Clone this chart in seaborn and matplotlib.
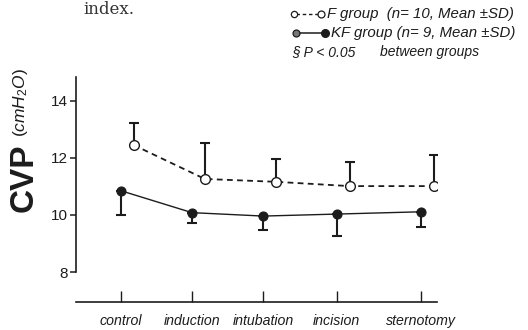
import numpy as np
import pandas as pd
import matplotlib
matplotlib.use("Agg")
import matplotlib.pyplot as plt
from matplotlib.lines import Line2D
import seaborn as sns

# Central venous pressure (cmH2O) at each surgical stage
stages = ["control", "induction", "intubation", "incision", "sternotomy"]
f_mean = [12.45, 11.26, 11.16, 11.01, 11.01]
f_sd = [0.78, 1.25, 0.81, 0.83, 1.09]
kf_mean = [10.85, 10.08, 9.96, 10.03, 10.11]
kf_sd = [0.84, 0.37, 0.49, 0.76, 0.52]
yticks = [8, 10, 12, 14]

# placement of the stages along the time axis, and the nudge of the F series
stage_pos = [0.0, 1.0, 2.0, 3.03, 4.21]
f_shift = 0.18

sns.set_theme(style="ticks")
plt.rcParams["font.family"] = ["Liberation Sans", "DejaVu Sans"]
plt.rcParams["mathtext.fontset"] = "custom"
plt.rcParams["mathtext.it"] = "Liberation Sans:italic"
plt.rcParams["mathtext.rm"] = "Liberation Sans"

ink = "#1c1c1c"
W, H = 528, 330

fig = plt.figure(figsize=(W / 100, H / 100), dpi=100)
fig.patch.set_facecolor("white")
ax = fig.add_axes([76 / W, (H - 301.7) / H, (437 - 76) / W, 301.7 / H])
ax.set_facecolor("white")

df_f = pd.DataFrame({"pos": np.array(stage_pos) + f_shift, "cvp": f_mean, "sd": f_sd})
df_kf = pd.DataFrame({"pos": np.array(stage_pos), "cvp": kf_mean, "sd": kf_sd})

# one-sided SD bars: upward for F, downward for KF
zeros = np.zeros(len(stages))
ax.errorbar(df_f["pos"], df_f["cvp"], yerr=[zeros, df_f["sd"]], fmt="none",
            ecolor=ink, elinewidth=1.5, capsize=3.8, capthick=1.5, zorder=2)
ax.errorbar(df_kf["pos"], df_kf["cvp"], yerr=[df_kf["sd"], zeros], fmt="none",
            ecolor=ink, elinewidth=1.5, capsize=3.8, capthick=1.5, zorder=2)

sns.lineplot(data=df_f, x="pos", y="cvp", ax=ax, color=ink, linewidth=1.3,
             linestyle=(0, (3.2, 2.4)), marker="o", markersize=7,
             markerfacecolor="white", markeredgecolor=ink, markeredgewidth=1.0,
             errorbar=None, sort=False, zorder=3)
sns.lineplot(data=df_kf, x="pos", y="cvp", ax=ax, color=ink, linewidth=1.0,
             marker="o", markersize=6.5, markerfacecolor=ink, markeredgecolor=ink,
             markeredgewidth=0.8, errorbar=None, sort=False, zorder=3)

ax.set_xlim(-0.627, 4.436)
ax.set_ylim(6.96, 17.53)
ax.set_xlabel("")
ax.set_ylabel("")

sns.despine(ax=ax, top=True, right=True)
for side in ("left", "bottom"):
    ax.spines[side].set_color(ink)
    ax.spines[side].set_linewidth(1.2)
ax.spines["left"].set_bounds(8, 14.83)

ax.set_yticks(yticks)
ax.set_yticklabels([str(v) for v in yticks], fontsize=11, color=ink)
ax.tick_params(axis="y", direction="out", length=4, width=1.1, color=ink, pad=2)

ax.set_xticks(stage_pos)
ax.set_xticklabels(stages, fontsize=10.2, style="italic", color=ink)
ax.tick_params(axis="x", direction="in", length=8, width=1.0, color=ink, pad=9)

# y-axis title: bold CVP with the unit beside it
fig.text(24 / W, 1 - 178 / H, "CVP", rotation=90, ha="center", va="center",
         fontsize=24, fontweight="bold", color=ink)
fig.text(21 / W, 1 - 103 / H, r"$(cmH_2O)$", rotation=90, ha="center", va="center",
         fontsize=12.5, color=ink)

# key in the upper right
def fx(px):
    return px / W

def fy(py):
    return 1 - py / H

fig.add_artist(Line2D([fx(296), fx(321)], [fy(14), fy(14)], transform=fig.transFigure,
                      color=ink, lw=1.0, linestyle=(0, (2.5, 2))))
fig.add_artist(Line2D([fx(294)], [fy(14)], transform=fig.transFigure, marker="o",
                      markersize=4.5, markerfacecolor="white", markeredgecolor=ink, mew=0.9))
fig.add_artist(Line2D([fx(321)], [fy(14)], transform=fig.transFigure, marker="o",
                      markersize=5, markerfacecolor="white", markeredgecolor=ink, mew=0.9))
fig.text(fx(327), fy(14), "F group  (n= 10, Mean ±SD)", fontsize=10.8, style="italic",
         ha="left", va="center", color=ink)

fig.add_artist(Line2D([fx(297), fx(325)], [fy(33), fy(33)], transform=fig.transFigure,
                      color=ink, lw=1.1))
fig.add_artist(Line2D([fx(296)], [fy(33)], transform=fig.transFigure, marker="o",
                      markersize=5, markerfacecolor="#777777", markeredgecolor=ink, mew=0.9))
fig.add_artist(Line2D([fx(325)], [fy(33)], transform=fig.transFigure, marker="o",
                      markersize=5.5, markerfacecolor=ink, markeredgecolor=ink))
fig.text(fx(331), fy(33), "KF group (n= 9, Mean ±SD)", fontsize=10.8, style="italic",
         ha="left", va="center", color=ink)

fig.text(fx(292), fy(52), "§ P < 0.05", fontsize=10, style="italic",
         ha="left", va="center", color=ink)
fig.text(fx(380), fy(52), "between groups", fontsize=10, style="italic",
         ha="left", va="center", color=ink)

# tail of the preceding caption line
fig.text(fx(83), fy(14), "index.", fontsize=12, family="DejaVu Serif",
         ha="left", va="baseline", color="#333333")

fig.savefig("out.png", dpi=100, facecolor="white")
